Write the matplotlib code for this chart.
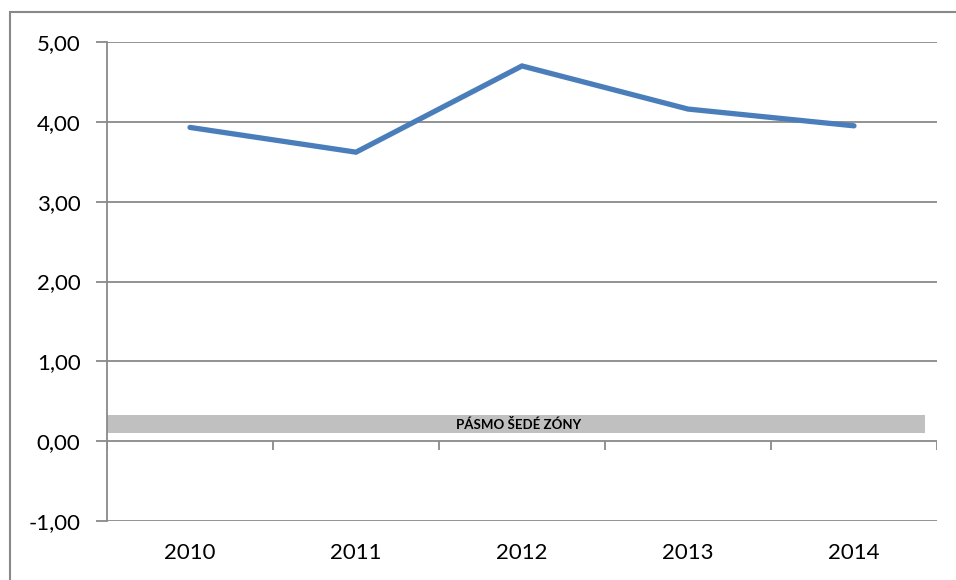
import matplotlib
matplotlib.use('Agg')
import matplotlib.pyplot as plt
from matplotlib.patches import Rectangle

years = ["2010", "2011", "2012", "2013", "2014"]
values = [3.93, 3.62, 4.70, 4.16, 3.95]
y_ticks = [-1, 0, 1, 2, 3, 4, 5]
y_labels = ["-1,00", "0,00", "1,00", "2,00", "3,00", "4,00", "5,00"]
band_low, band_high = 0.10, 0.33
band_label = "PÁSMO ŠEDÉ ZÓNY"

plt.rcParams['font.family'] = ['Lato', 'DejaVu Sans']
grid_col = '#898989'

fig = plt.figure(figsize=(9.56, 5.80), dpi=100)
W, H = 956, 580
ax = fig.add_axes([107 / W, 1 - 521 / H, 830 / W, 479 / H])

# outer chart frame (runs past the right and bottom edges)
fig.patches.append(Rectangle((10 / W, -0.1), 1.2, 1 - 12 / H + 0.1,
                             transform=fig.transFigure, fill=False,
                             edgecolor=grid_col, linewidth=1.5))

x = list(range(len(years)))
ax.set_xlim(-0.5, len(years) - 0.5)
ax.set_ylim(-1, 5)

for s in ['top', 'right', 'bottom']:
    ax.spines[s].set_visible(False)
ax.spines['left'].set_color(grid_col)
ax.spines['left'].set_linewidth(1.3)

# horizontal gridlines
for t in y_ticks:
    ax.axhline(t, color=grid_col, linewidth=1.3, zorder=1)

# grey zone band
ax.axhspan(band_low, band_high, xmin=0, xmax=818 / 830,
           color='#c0c0c0', linewidth=0, zorder=2)
ax.text(2 - 0.02, (band_low + band_high) / 2, band_label, ha='center', va='center',
        fontsize=9.5, fontweight='bold', color='black', zorder=3)

# category axis at zero with boundary ticks
bounds = [i - 0.5 for i in range(len(years) + 1)]
ax.vlines(bounds, -0.11, 0, color=grid_col, linewidth=1.3, zorder=1)

ax.plot(x, values, color='#4a7ebb', linewidth=3.8, solid_capstyle='round',
        solid_joinstyle='miter', zorder=4)

ax.set_yticks(y_ticks)
ax.set_yticklabels(y_labels)
ax.tick_params(axis='y', direction='out', length=8, width=1.3, color=grid_col,
               pad=11, labelsize=16)
ax.set_xticks(x)
ax.set_xticklabels(years)
ax.tick_params(axis='x', length=0, pad=16, labelsize=16)

fig.savefig('out.png', dpi=100, facecolor='white')
plt.close(fig)
